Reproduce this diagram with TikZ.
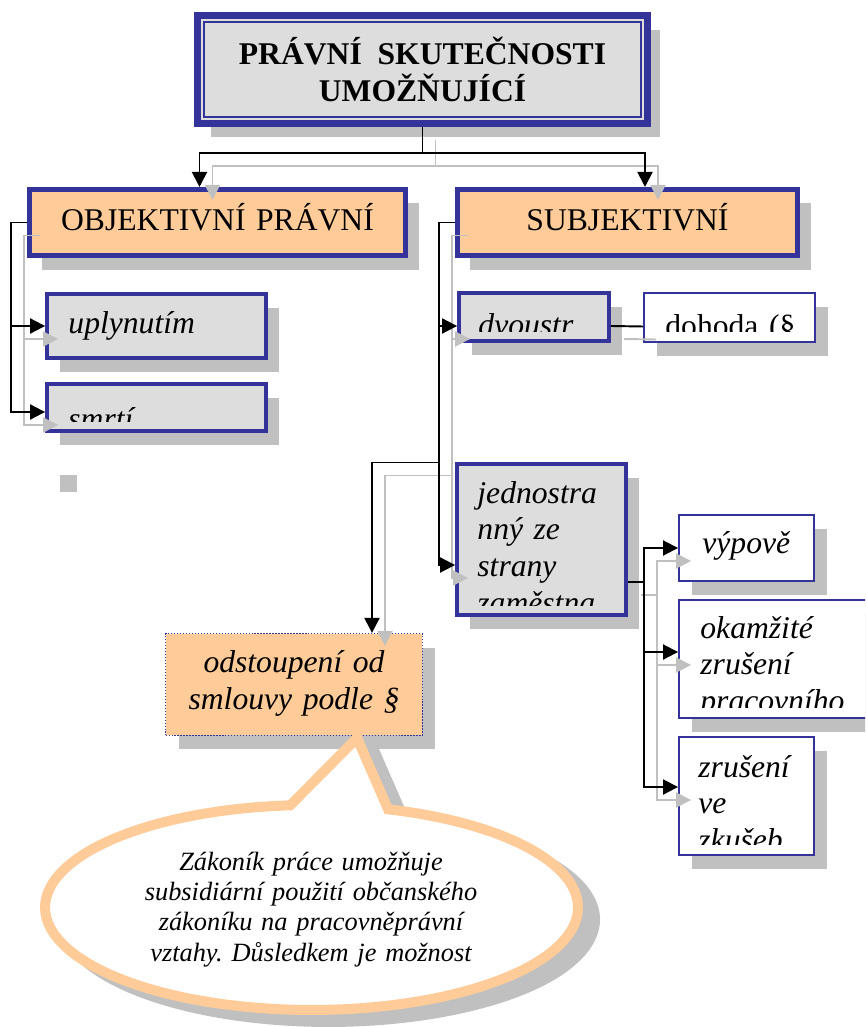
\documentclass[tikz,border=0pt]{standalone}
\usepackage{fontspec}
\setmainfont{Liberation Serif}
\usepackage{tikz}
\usetikzlibrary{arrows.meta}
\usetikzlibrary{shadows}
\definecolor{frameblue}{RGB}{51,51,153}
\definecolor{peach}{RGB}{255,204,153}
\definecolor{boxgrey}{RGB}{221,221,221}
\definecolor{shadegrey}{RGB}{192,192,192}
\frenchspacing
\newcommand{\boxfont}{\fontsize{18}{21}\selectfont}
\newcommand{\notefont}{\fontsize{15}{17.3}\selectfont}
% text of a box, cut off at the lower edge of the box
\newcommand{\cliptext}[5]{%
    \begin{scope}
        \clip (#1.north west) rectangle ([yshift=0.22cm]#1.south east);
        \node[#4] (#1-text) at ([shift={#3}]#1.#2) {#5};
    \end{scope}}
\tikzset{
    common/.style={draw=frameblue, rectangle, inner sep=0pt,
        drop shadow={shadow xshift=0.26cm, shadow yshift=-0.28cm, fill=shadegrey, opacity=1}},
    headbox/.style={common, fill=boxgrey, line width=4pt, font=\boxfont\bfseries, align=center},
    mainbox/.style={common, fill=peach, line width=2.6pt},
    greybox/.style={common, fill=boxgrey, line width=2.2pt},
    whitebox/.style={common, fill=white, line width=1.1pt},
    notebox/.style={common, fill=peach, densely dotted, line width=0.7pt},
    itxt/.style={anchor=base west, text width=9cm, align=left, inner sep=0pt, font=\boxfont\itshape},
    rtxt/.style={itxt, font=\boxfont},
    ctxt/.style={anchor=base, text width=9cm, align=center, inner sep=0pt, font=\boxfont},
    conn/.style={line width=1.1pt, -{Triangle[length=0.3cm, width=0.3cm]}},
    bubble/.style={line width=0.2cm, line join=miter}
}
\begin{document}
\begin{tikzpicture}[x=0.02cm, y=-0.02cm]
    \useasboundingbox (0,0) rectangle (865,1027);
    \clip (0,0) rectangle (865,1027);

    \node[headbox, minimum width=9cm, minimum height=2.16cm] (title) at (422.5,69.5)
        {PRÁVNÍ~~SKUTEČNOSTI\\UMOŽŇUJÍCÍ};
    \draw[frameblue, line width=0.8pt]
        ([shift={(10,10)}]title.north west) rectangle ([shift={(-10,-10)}]title.south east);

    \node[mainbox, minimum width=7.53cm, minimum height=1.33cm] (objekt) at (217.5,222.5) {};
    \node[mainbox, minimum width=6.81cm, minimum height=1.33cm] (subjekt) at (627.5,222.5) {};
    \node[greybox, minimum width=4.38cm, minimum height=1.28cm] (uplyn) at (156.5,326) {};
    \node[greybox, minimum width=4.38cm, minimum height=0.94cm] (smrti) at (156.5,407.5) {};
    \node[greybox, minimum width=3cm, minimum height=0.96cm] (dvoustr) at (534,317) {};
    \node[whitebox, minimum width=3.42cm, minimum height=0.98cm] (dohoda) at (729.5,317.5) {};
    \node[greybox, minimum width=3.38cm, minimum height=3.02cm] (jedn) at (541.5,539.5) {};
    \node[whitebox, minimum width=2.7cm, minimum height=1.32cm] (vypov) at (746.5,548) {};
    \node[whitebox, minimum width=4.1cm, minimum height=2.36cm] (okam) at (781.5,659) {};
    \node[whitebox, minimum width=2.7cm, minimum height=2.36cm] (zrus) at (746.5,796) {};
    \node[notebox, minimum width=5.14cm, minimum height=2.04cm] (odst) at (294,684.5) {};

    \cliptext{objekt}{north}{(0,44)}{ctxt}{OBJEKTIVNÍ PRÁVNÍ}
    \cliptext{subjekt}{north}{(0,44)}{ctxt}{SUBJEKTIVNÍ}
    \cliptext{uplyn}{north west}{(23,41)}{itxt}{uplynutím}
    \cliptext{smrti}{north west}{(23,47)}{itxt}{smrtí}
    \cliptext{dvoustr}{north west}{(21,44)}{itxt}{dvoustr}
    \cliptext{dohoda}{north west}{(22,44)}{rtxt}{dohoda (§}
    \cliptext{jedn}{north west}{(22,41)}{itxt}{jednostra\\nný ze\\strany\\zaměstna}
    \cliptext{vypov}{north west}{(24,39)}{itxt}{výpově}
    \cliptext{okam}{north west}{(22,39)}{itxt}{okamžité\\zrušení\\pracovního}
    \cliptext{zrus}{north west}{(20,41)}{itxt}{zrušení\\ve\\zkušeb}
    \cliptext{odst}{north}{(0,40)}{ctxt, font=\boxfont\itshape}{odstoupení od\\smlouvy podle §}

    \fill[shadegrey] (60,475) rectangle (77,492);

    % grey copy first, black on top
    \foreach \off/\col in {13/shadegrey, 0/black}{
        \begin{scope}[transform canvas={shift={(\off,\off)}}, color=\col]
            \draw[conn] (title.south) -- ++(0,26) -| ([xshift=-0.36cm]objekt.north);
            \draw[conn] (title.south) -- ++(0,26) -| ([xshift=0.35cm]subjekt.north);
            \draw[conn] (objekt.west) -- ++(-16,0) |- (uplyn.west);
            \draw[conn] (objekt.west) -- ++(-16,0) |- ([yshift=-0.09cm]smrti.west);
            \draw[conn] (subjekt.west) -- ++(-16,0) |- ([yshift=-0.18cm]dvoustr.west);
            \draw[conn] (subjekt.west) -- ++(-16,0) |- ([yshift=-0.51cm]jedn.west);
            \draw[conn] (subjekt.west) -- ++(-16,0) -- ++(0,240) -| ([xshift=1.56cm]odst.north);
            \draw[line width=1.1pt] ([yshift=-0.18cm]dvoustr.east) -- ([yshift=-0.18cm]dohoda.west);
            \draw[conn] ([yshift=-0.85cm]jedn.east) -- ++(16,0) |- (vypov.west);
            \draw[conn] ([yshift=-0.85cm]jedn.east) -- ++(16,0) |- ([yshift=0.14cm]okam.west);
            \draw[conn] ([yshift=-0.85cm]jedn.east) -- ++(16,0) |- ([yshift=0.18cm]zrus.west);
        \end{scope}
    }

    % speech bubble under odst
    \draw[bubble, shadegrey, fill=shadegrey, shift={(17,12)}]
        (357,738) -- (388.1,809.3)
        arc[start angle=73.3, end angle=-265.4, x radius=5.33cm, y radius=2.05cm] -- cycle;
    \draw[bubble, peach, fill=white]
        (357,738) -- (388.1,809.3)
        arc[start angle=73.3, end angle=-265.4, x radius=5.33cm, y radius=2.05cm] -- cycle;
    \node[ctxt, font=\notefont\itshape] (note) at (311,870)
        {Zákoník práce umožňuje\\subsidiární použití občanského\\zákoníku na pracovněprávní\\vztahy. Důsledkem je možnost};
\end{tikzpicture}
\end{document}
